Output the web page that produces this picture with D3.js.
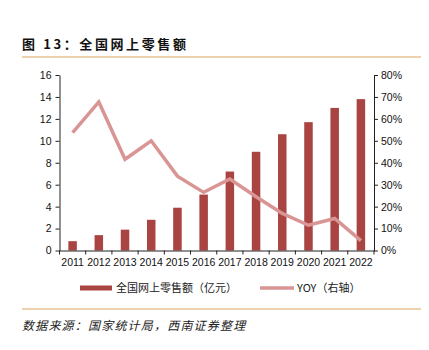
<!DOCTYPE html>
<html><head><meta charset="utf-8">
<script src="https://cdn.jsdelivr.net/npm/d3@7"></script>
<style>body{margin:0;background:#fff;}svg{display:block;}</style>
</head><body>
<script>
const years = ["2011","2012","2013","2014","2015","2016","2017","2018","2019","2020","2021","2022"];
const sales = [0.85,1.4,1.9,2.8,3.9,5.1,7.2,9.0,10.6,11.7,13.0,13.8];
const yoy = [0.537,0.677,0.416,0.500,0.339,0.265,0.326,0.245,0.169,0.115,0.146,0.045];
const leftTicks = [0,2,4,6,8,10,12,14,16];
const rightTicks = [0,0.1,0.2,0.3,0.4,0.5,0.6,0.7,0.8];
const title = "图 13：全国网上零售额";
const source = "数据来源：国家统计局，西南证券整理";
const legendLabels = ["全国网上零售额（亿元）","YOY（右轴）"];

const W=429,H=350;
const svg=d3.select("body").append("svg").attr("width",W).attr("height",H);
const barColor="#a94442", lineColor="#d99594", ruleColor="#d9a55a";
const cjk="'Noto Sans CJK SC', sans-serif";
const lat="'Liberation Sans', Arial, sans-serif";

svg.append("text").attr("x",22).attr("y",49).text(title)
  .attr("font-family",cjk).attr("font-weight","bold").attr("font-size",13).attr("letter-spacing",2.6).attr("fill","#111");
svg.append("line").attr("x1",22).attr("x2",421).attr("y1",57).attr("y2",57).attr("stroke",ruleColor).attr("stroke-width",1);
svg.append("line").attr("x1",22).attr("x2",421).attr("y1",309).attr("y2",309).attr("stroke",ruleColor).attr("stroke-width",1);
svg.append("text").attr("x",22).attr("y",330).text(source)
  .attr("font-family",cjk).attr("font-style","italic").attr("font-size",12).attr("fill","#222")
  .attr("letter-spacing",1.2);

const x0=59.5,x1=374,yTop=75,yBot=250.5;
const x=d3.scaleBand().domain(years).range([x0,x1]);
const yL=d3.scaleLinear().domain([0,16]).range([yBot,yTop]);
const yR=d3.scaleLinear().domain([0,0.8]).range([yBot,yTop]);

svg.append("g").selectAll("rect").data(years).join("rect")
  .attr("x",d=>x(d)+x.bandwidth()/2-4.25).attr("width",8.5)
  .attr("y",(d,i)=>yL(sales[i])).attr("height",(d,i)=>yBot-yL(sales[i]))
  .attr("fill",barColor);

const line=d3.line().x((d,i)=>x(years[i])+x.bandwidth()/2).y(d=>yR(d));
svg.append("path").datum(yoy).attr("d",line).attr("fill","none").attr("stroke",lineColor).attr("stroke-width",3.5).attr("stroke-linejoin","miter");

const axL=svg.append("g").attr("transform",`translate(${x0},0)`)
  .call(d3.axisLeft(yL).tickValues(leftTicks).tickSize(4).tickSizeOuter(0).tickFormat(d3.format("d")));
const axR=svg.append("g").attr("transform",`translate(${x1},0)`)
  .call(d3.axisRight(yR).tickValues(rightTicks).tickSize(4).tickSizeOuter(0).tickFormat(d3.format(".0%")));
const axB=svg.append("g").attr("transform",`translate(0,${yBot})`)
  .call(d3.axisBottom(x).tickSize(0).tickPadding(8));
svg.append("g").selectAll("line").data(d3.range(years.length+1)).join("line")
  .attr("x1",i=>x0+i*x.step()).attr("x2",i=>x0+i*x.step()).attr("y1",yBot).attr("y2",yBot+4).attr("stroke","#222");
[axL,axR,axB].forEach(a=>{
  a.selectAll("path.domain").attr("stroke","#222");
  a.selectAll(".tick line").attr("stroke","#222");
  a.selectAll("text").attr("font-family",lat).attr("font-size",10.5).attr("fill","#111");
});
axL.selectAll("text").attr("dx",-1);

const ly=288;
svg.append("rect").attr("x",80).attr("y",ly-2.5).attr("width",32).attr("height",5).attr("fill",barColor);
svg.append("text").attr("x",116).attr("y",ly+4).text(legendLabels[0]).attr("font-family",cjk).attr("font-size",11).attr("fill","#222");
svg.append("line").attr("x1",260).attr("x2",294).attr("y1",ly).attr("y2",ly).attr("stroke",lineColor).attr("stroke-width",3.5);
svg.append("text").attr("x",297).attr("y",ly+4).text(legendLabels[1]).attr("font-family",cjk).attr("font-size",11).attr("fill","#222");
</script>
</body></html>
